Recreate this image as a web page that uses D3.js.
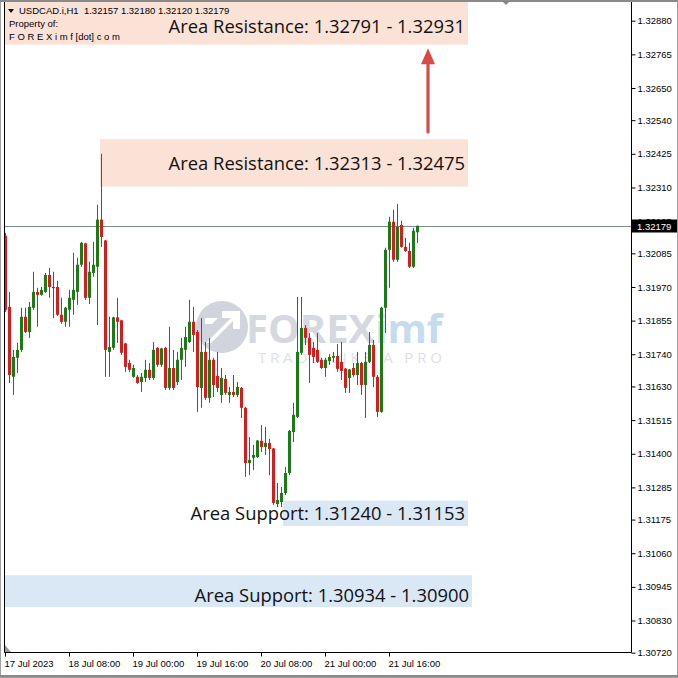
<!DOCTYPE html>
<html><head><meta charset="utf-8">
<script src="https://cdn.jsdelivr.net/npm/d3@7"></script>
<style>body{margin:0;background:#fff}svg{display:block}</style>
</head><body>
<svg id="c" width="678" height="678"></svg>
<script>
// ---- data (USDCAD.i, H1) ----
const openP = [1.32145,1.31902,1.31663,1.31728,1.31755,1.31868,1.31816,1.31899,1.31953,1.31943,
1.31953,1.32011,1.31967,1.31970,1.31875,1.31851,1.31892,1.31926,1.31953,1.32046,
1.32119,1.31933,1.32018,1.32039,1.32200,1.32129,1.31748,1.31762,1.31866,1.31856,
1.31777,1.31710,1.31663,1.31663,1.31645,1.31659,1.31687,1.31659,1.31762,1.31704,
1.31762,1.31625,1.31693,1.31645,1.31721,1.31755,1.31782,1.31851,1.31816,1.31625,
1.31748,1.31591,1.31721,1.31666,1.31601,1.31656,1.31601,1.31611,1.31601,1.31625,
1.31557,1.31368,1.31386,1.31389,1.31444,1.31423,1.31437,1.31418,1.31228,1.31235,
1.31266,1.31334,1.31474,1.31526,1.31745,1.31830,1.31796,1.31762,1.31755,1.31721,
1.31693,1.31717,1.31728,1.31734,1.31714,1.31691,1.31659,1.31693,1.31669,1.31710,
1.31635,1.31714,1.31772,1.31663,1.31543,1.31899,1.32097,1.32193,1.32063,1.32182,
1.32107,1.32093,1.32039,1.32157];
const highP = [1.32155,1.31953,1.31755,1.31779,1.31899,1.31899,1.31919,1.32022,1.31967,1.31970,
1.32018,1.32035,1.32022,1.31991,1.31933,1.31902,1.31960,1.32087,1.32070,1.32124,
1.32121,1.32056,1.32124,1.32251,1.32425,1.32131,1.31868,1.31868,1.31933,1.31858,
1.31779,1.31721,1.31704,1.31669,1.31676,1.31721,1.31710,1.31782,1.31765,1.31762,
1.31765,1.31834,1.31755,1.31748,1.31796,1.31834,1.31926,1.31902,1.31823,1.31864,
1.31782,1.31796,1.31728,1.31748,1.31693,1.31669,1.31628,1.31669,1.31645,1.31628,
1.31560,1.31457,1.31430,1.31447,1.31498,1.31492,1.31451,1.31420,1.31300,1.31286,
1.31355,1.31481,1.31574,1.31936,1.31936,1.31840,1.31813,1.31782,1.31813,1.31728,
1.31728,1.31741,1.31748,1.31775,1.31782,1.31693,1.31690,1.31710,1.31748,1.31714,
1.31748,1.31816,1.31789,1.31669,1.31902,1.32104,1.32210,1.32234,1.32254,1.32196,
1.32138,1.32121,1.32172,1.32180];
const lowP = [1.31885,1.31642,1.31601,1.31676,1.31748,1.31813,1.31796,1.31892,1.31834,1.31940,
1.31950,1.31933,1.31864,1.31871,1.31844,1.31834,1.31834,1.31875,1.31909,1.32039,
1.31926,1.31912,1.32005,1.31840,1.32107,1.31663,1.31663,1.31755,1.31779,1.31738,
1.31680,1.31680,1.31660,1.31639,1.31611,1.31645,1.31652,1.31652,1.31697,1.31697,
1.31618,1.31618,1.31618,1.31635,1.31652,1.31697,1.31779,1.31748,1.31543,1.31557,
1.31584,1.31574,1.31594,1.31611,1.31574,1.31601,1.31574,1.31594,1.31594,1.31522,
1.31321,1.31327,1.31345,1.31386,1.31406,1.31396,1.31327,1.31225,1.31218,1.31218,
1.31259,1.31327,1.31440,1.31522,1.31738,1.31772,1.31642,1.31710,1.31710,1.31690,
1.31663,1.31704,1.31714,1.31680,1.31652,1.31608,1.31608,1.31663,1.31635,1.31601,
1.31522,1.31710,1.31628,1.31526,1.31540,1.31813,1.31967,1.32056,1.32056,1.32104,
1.32090,1.32035,1.32035,1.32120];
const closeP = [1.31892,1.31669,1.31731,1.31755,1.31868,1.31816,1.31902,1.31953,1.31943,1.31960,
1.32011,1.31970,1.31970,1.31875,1.31851,1.31899,1.31933,1.31960,1.32046,1.32121,
1.31933,1.32022,1.32046,1.32200,1.32141,1.31755,1.31765,1.31866,1.31851,1.31745,
1.31697,1.31687,1.31693,1.31642,1.31663,1.31687,1.31659,1.31755,1.31704,1.31760,
1.31625,1.31693,1.31625,1.31721,1.31762,1.31799,1.31851,1.31806,1.31628,1.31748,
1.31591,1.31721,1.31635,1.31625,1.31659,1.31608,1.31611,1.31601,1.31628,1.31557,
1.31368,1.31379,1.31396,1.31445,1.31423,1.31437,1.31416,1.31232,1.31242,1.31266,
1.31334,1.31478,1.31533,1.31748,1.31830,1.31796,1.31738,1.31731,1.31714,1.31693,
1.31721,1.31731,1.31734,1.31690,1.31683,1.31625,1.31688,1.31669,1.31710,1.31635,
1.31714,1.31772,1.31663,1.31543,1.31899,1.32097,1.32193,1.32063,1.32176,1.32107,
1.32093,1.32039,1.32162,1.32179];

const xTickIdx = [0,16,32,48,64,80,96];
const xTickLabels = ["17 Jul 2023","18 Jul 08:00","19 Jul 00:00","19 Jul 16:00","20 Jul 08:00","21 Jul 00:00","21 Jul 16:00"];
const yTickValues = [1.32880,1.32765,1.32650,1.32540,1.32425,1.32310,1.32195,1.32085,1.31970,1.31855,
  1.31740,1.31630,1.31515,1.31400,1.31285,1.31175,1.31060,1.30945,1.30830,1.30720];
const lastPrice = 1.32179;
const headerSymbol = "USDCAD.i,H1";
const headerOHLC = "1.32157 1.32180 1.32120 1.32179";

const zoneLabels = ["Area Resistance: 1.32791 - 1.32931","Area Resistance: 1.32313 - 1.32475",
  "Area Support: 1.31240 - 1.31153","Area Support: 1.30934 - 1.30900"];
const zoneA = [1.32791,1.32313,1.31240,1.30934];   // labelled bounds
const zoneB = [1.32931,1.32475,1.31153,1.30900];
const zoneLow  = [1.32798,1.32313,1.31153,1.30876]; // drawn box
const zoneHigh = [1.32990,1.32475,1.31240,1.30985];
const zoneFrom = [-0.25,23.75,69.5,-0.25];
const zoneTo   = [115.75,115.75,115.75,116.75];
const zoneType = ["res","res","sup","sup"];
const arrowIdx = 105.75, arrowFrom = 1.32500, arrowTo = 1.32786;

// ---- drawing ----
const svg = d3.select("#c");
const L = 4.5, R = 631.5, T = 1, B = 652.5;
const y = d3.scaleLinear().domain([1.30720, 1.32880]).range([652.7, 20.7]);
const x = d3.scaleLinear().domain([0, 103]).range([5, 417]);

svg.append("rect").attr("width",678).attr("height",678).attr("fill","#fff");
svg.append("defs").append("clipPath").attr("id","plot").append("rect")
  .attr("x",L).attr("y",T).attr("width",R-L).attr("height",B-T);
const plot = svg.append("g").attr("clip-path","url(#plot)");

// zones
const zoneFill = {res:"#fbe2d7", sup:"#dae8f6"};
zoneLabels.forEach((lab,i)=>{
  plot.append("rect").attr("x",x(zoneFrom[i])).attr("width",x(zoneTo[i])-x(zoneFrom[i]))
    .attr("y",y(zoneHigh[i])).attr("height",y(zoneLow[i])-y(zoneHigh[i]))
    .attr("fill",zoneFill[zoneType[i]]);
});

// watermark
const wm = plot.append("g").attr("opacity",0.85);
wm.append("circle").attr("cx",222).attr("cy",327).attr("r",26).attr("fill","#cacdd7");
wm.append("path").attr("d","M206,343 L231,318 L222,318 L222,311 L240,311 L240,329 L233,329 L233,321 L211,343 Z M205,318 L218,318 L212,324 L205,324 Z")
  .attr("fill","#fff");
const wmt = wm.append("text").attr("x",246).attr("y",343)
  .attr("font-family","'Open Sans', sans-serif").attr("font-weight",700).attr("font-size",40);
wmt.append("tspan").attr("fill","#cfd2db").text("FOREX");
wmt.append("tspan").attr("fill","#bcd6ee").text("imf");
wm.append("text").attr("x",258).attr("y",363).attr("font-family","'Open Sans', sans-serif")
  .attr("font-size",15).attr("letter-spacing",3.8).attr("fill","#d9dce3").text("TRADE LIKE A PRO");

// current price line
plot.append("line").attr("x1",L).attr("x2",R).attr("y1",Math.round(y(lastPrice))+0.5).attr("y2",Math.round(y(lastPrice))+0.5)
  .attr("stroke","#7d8a96").attr("stroke-width",1);

// candles
const idx = d3.range(openP.length);
const up = "#1e7a18", dn = "#d11f1f";
const cg = plot.append("g");
idx.forEach(i=>{
  const o=openP[i], c=closeP[i], col = c>=o?up:dn, cx = Math.round(x(i));
  cg.append("rect").attr("x",cx).attr("width",1).attr("y",y(highP[i])).attr("height",Math.max(1,y(lowP[i])-y(highP[i]))).attr("fill",col);
  const yt = y(Math.max(o,c)), yb = y(Math.min(o,c));
  cg.append("rect").attr("x",cx-1).attr("width",3).attr("y",yt).attr("height",Math.max(1.2,yb-yt)).attr("fill",col);
});

// zone labels
zoneLabels.forEach((lab,i)=>{
  plot.append("text").attr("x",x(zoneTo[i])-3).attr("y",(y(zoneA[i])+y(zoneB[i]))/2+7)
    .attr("text-anchor","end").attr("font-family","'Open Sans', sans-serif").attr("font-size",18.4)
    .attr("fill","#111").text(lab);
});

// arrow
const ax = x(arrowIdx);
plot.append("line").attr("x1",ax).attr("x2",ax).attr("y1",y(arrowFrom)).attr("y2",y(arrowTo)+14)
  .attr("stroke","#d64a47").attr("stroke-width",3.2).attr("stroke-linecap","round");
plot.append("path").attr("d",`M${ax},${y(arrowTo)} L${ax-7},${y(arrowTo)+16} L${ax+7},${y(arrowTo)+16} Z`)
  .attr("fill","#d64a47");

// header
const hf = "'Liberation Sans', Arial, sans-serif";
svg.append("path").attr("d","M8,9 L14,9 L11,13 Z").attr("fill","#000");
svg.append("text").attr("x",19).attr("y",14).attr("font-family",hf).attr("font-size",9.5).attr("fill","#000")
  .attr("xml:space","preserve").text(headerSymbol + "  " + headerOHLC);
svg.append("text").attr("x",9).attr("y",27).attr("font-family",hf).attr("font-size",9.5).attr("fill","#000").text("Property of:");
svg.append("text").attr("x",9).attr("y",40).attr("font-family",hf).attr("font-size",9.5).attr("fill","#000")
  .attr("xml:space","preserve").text("F O R E X i m f [dot] c o m");

// y axis
const yAxis = d3.axisRight(y).tickValues(yTickValues).tickFormat(d3.format(".5f")).tickSize(4).tickPadding(2);
const gy = svg.append("g").attr("transform",`translate(${R},0)`).call(yAxis);
gy.select(".domain").remove();
gy.selectAll("line").attr("stroke","#000");
gy.selectAll("text").attr("font-family",hf).attr("font-size",9.5).attr("fill","#000");

// price label
const py = Math.round(y(lastPrice));
svg.append("rect").attr("x",632).attr("y",py-6.5).attr("width",45).attr("height",13).attr("fill","#000");
svg.append("text").attr("x",637).attr("y",py+4).attr("font-family",hf).attr("font-size",9.5).attr("fill","#fff").text(d3.format(".5f")(lastPrice));

// x axis
const xAxis = d3.axisBottom(x).tickValues(xTickIdx).tickFormat((d,i)=>xTickLabels[i]).tickSize(4);
const gx = svg.append("g").attr("transform",`translate(0,${B})`).call(xAxis);
gx.select(".domain").remove();
gx.selectAll("line").attr("stroke","#000");
gx.selectAll("text").attr("text-anchor","start").attr("dx",-1).attr("dy",0).attr("y",14.5)
  .attr("font-family",hf).attr("font-size",9.5).attr("fill","#000");

// frame
svg.append("path").attr("d",`M${L},${T} V${B} H${R} V${T}`).attr("fill","none").attr("stroke","#000").attr("stroke-width",1);
svg.append("rect").attr("x",0.5).attr("y",0.5).attr("width",677).attr("height",677).attr("fill","none").attr("stroke","#a0a0a0");
svg.append("line").attr("x1",0).attr("x2",678).attr("y1",676).attr("y2",676).attr("stroke","#8a8a8a").attr("stroke-width",2);
svg.append("line").attr("x1",0).attr("x2",678).attr("y1",1).attr("y2",1).attr("stroke","#8a8a8a").attr("stroke-width",2);
svg.append("path").attr("d","M501,0 L511,0 L506,5 Z").attr("fill","#888");
svg.append("path").attr("d",`M5,645 L5,652 L11,652 Z`).attr("fill","#999");
</script>
</body></html>
